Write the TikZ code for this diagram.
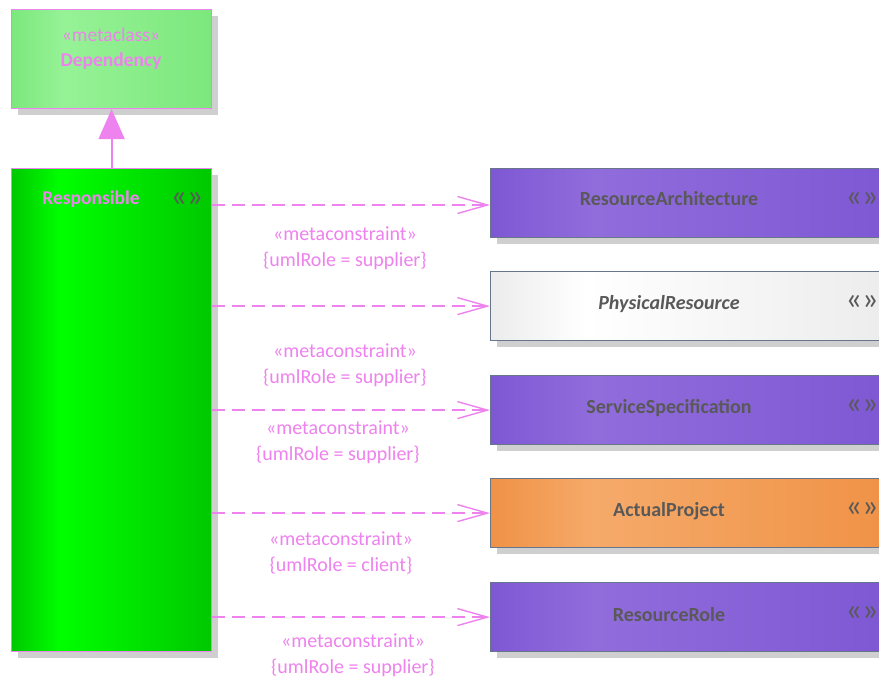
\documentclass[tikz,border=0pt]{standalone}
\usepackage{fontspec}
\setmainfont{Carlito}
\usetikzlibrary{arrows.meta,shadows}
\definecolor{pinkv}{RGB}{238,130,238}
\definecolor{boxtext}{RGB}{89,89,89}
\definecolor{boxborder}{RGB}{104,118,140}
\definecolor{shadowgray}{RGB}{207,207,207}
\definecolor{purpE}{RGB}{126,88,212}
\definecolor{purpL}{RGB}{145,108,219}
\definecolor{grnE}{RGB}{0,200,0}
\definecolor{grnL}{RGB}{0,255,0}
\definecolor{depE}{RGB}{124,232,124}
\definecolor{depL}{RGB}{150,242,150}
\definecolor{whtE}{RGB}{236,236,236}
\definecolor{whtL}{RGB}{255,255,255}
\definecolor{orgE}{RGB}{240,146,70}
\definecolor{orgL}{RGB}{245,170,106}
\pgfdeclarehorizontalshading{purpshade}{100bp}{color(0bp)=(purpE); color(25bp)=(purpE); color(38bp)=(purpL); color(75bp)=(purpE); color(100bp)=(purpE)}
\pgfdeclarehorizontalshading{grnshade}{100bp}{color(0bp)=(grnE); color(25bp)=(grnE); color(37bp)=(grnL); color(75bp)=(grnE); color(100bp)=(grnE)}
\pgfdeclarehorizontalshading{depshade}{100bp}{color(0bp)=(depE); color(25bp)=(depE); color(38bp)=(depL); color(75bp)=(depE); color(100bp)=(depE)}
\pgfdeclarehorizontalshading{whtshade}{100bp}{color(0bp)=(whtE); color(25bp)=(whtE); color(37bp)=(whtL); color(75bp)=(whtE); color(100bp)=(whtE)}
\pgfdeclarehorizontalshading{orgshade}{100bp}{color(0bp)=(orgE); color(25bp)=(orgE); color(38bp)=(orgL); color(75bp)=(orgE); color(100bp)=(orgE)}
\tikzset{
  box/.style={rectangle, inner sep=0pt, line width=1.2pt, anchor=north west,
    drop shadow={shadow xshift=6pt, shadow yshift=-6pt, fill=shadowgray, opacity=1}},
  leftbox/.style={box, draw=pinkv, minimum width=200pt},
  rightbox/.style={box, draw=boxborder, minimum width=400pt, minimum height=69pt},
  nametext/.style={font=\fontsize{20}{24}\selectfont\bfseries, text=boxtext, inner sep=0pt},
  pinktext/.style={font=\fontsize{19.5}{24}\selectfont, text=pinkv, inner sep=0pt},
  pinkbold/.style={font=\fontsize{19.5}{24}\selectfont\bfseries, text=pinkv, inner sep=0pt},
  guil/.style={font=\fontsize{32}{32}\selectfont, text=boxtext, inner sep=0pt},
  dep/.style={draw=pinkv, line width=1.4pt, dash pattern=on 13pt off 7pt,
    -{Straight Barb[length=30pt,width=17pt,line width=1.4pt]}},
  lbl/.style={font=\fontsize{20}{26}\selectfont, text=pinkv, align=center, inner sep=0pt},
}
\begin{document}
\begin{tikzpicture}[x=1pt,y=-1pt]
\useasboundingbox (0,0) rectangle (879,677);
\clip (0,0) rectangle (879,677);
\fill[white] (0,0) rectangle (879,677);
% left boxes
\node[leftbox, shading=depshade, minimum height=99pt] (dep) at (11,9) {};
\node[pinktext] (depst) at (111,35) {«metaclass»};
\node[pinkbold] (depname) at (111,61) {Dependency};
\node[leftbox, shading=grnshade, minimum height=483pt] (resp) at (11,168) {};
\node[pinkbold] (respname) at (91,199) {Responsible};
\node[guil] (respg) at (187,199) {«»};
% right boxes
\node[rightbox, shading=purpshade] (ra) at (490,168) {};
\node[nametext] (ran) at (669,199) {ResourceArchitecture};
\node[guil] (rag) at (862,199) {«»};
\node[rightbox, shading=whtshade] (pr) at (490,271) {};
\node[nametext, font=\fontsize{20}{24}\selectfont\bfseries\itshape] (prn) at (669,304) {PhysicalResource};
\node[guil] (prg) at (862,302) {«»};
\node[rightbox, shading=purpshade] (ss) at (490,375) {};
\node[nametext] (ssn) at (669,408) {ServiceSpecification};
\node[guil] (ssg) at (862,406) {«»};
\node[rightbox, shading=orgshade] (ap) at (490,478) {};
\node[nametext] (apn) at (669,511) {ActualProject};
\node[guil] (apg) at (862,509) {«»};
\node[rightbox, shading=purpshade] (rr) at (490,582) {};
\node[nametext] (rrn) at (669,615) {ResourceRole};
\node[guil] (rrg) at (862,613) {«»};
% generalization
\draw[draw=pinkv, line width=2pt, -{Triangle[length=30pt,width=26pt,fill=pinkv]}] (resp.north) -- (dep.south);
% dependencies
\draw[dep] (resp.east |- 0,205) -- (ra.west |- 0,205);
\draw[dep] (resp.east |- pr.west) -- (pr.west);
\draw[dep] (resp.east |- ss.west) -- (ss.west);
\draw[dep] (resp.east |- ap.west) -- (ap.west);
\draw[dep] (resp.east |- rr.west) -- (rr.west);
% labels
\node[lbl] (l1) at (345,248) {«metaconstraint»\\\{umlRole = supplier\}};
\node[lbl] (l2) at (345,365) {«metaconstraint»\\\{umlRole = supplier\}};
\node[lbl] (l3) at (338,442) {«metaconstraint»\\\{umlRole = supplier\}};
\node[lbl] (l4) at (341,553) {«metaconstraint»\\\{umlRole = client\}};
\node[lbl] (l5) at (353,655) {«metaconstraint»\\\{umlRole = supplier\}};
\end{tikzpicture}
\end{document}
